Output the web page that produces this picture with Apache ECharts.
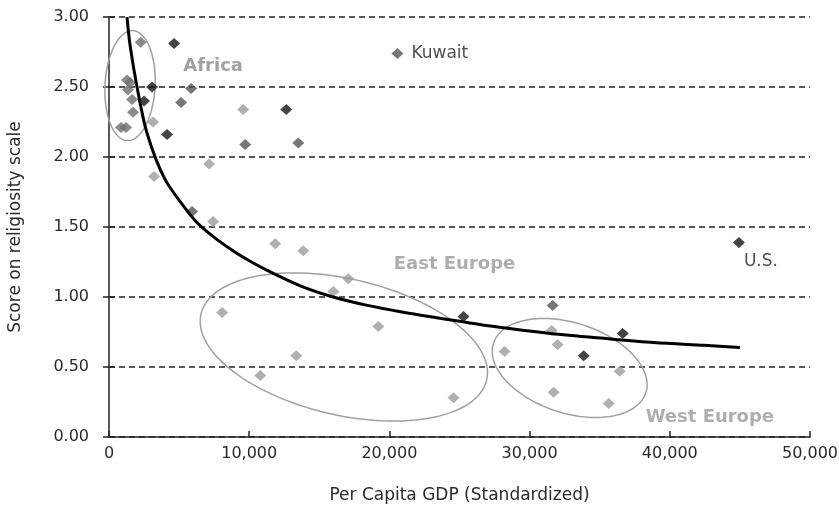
<!DOCTYPE html>
<html>
<head>
<meta charset="utf-8">
<script src="https://cdn.jsdelivr.net/npm/echarts@6/dist/echarts.min.js"></script>
<style>
html,body{margin:0;padding:0;background:#fff;}
#chart{width:839px;height:522px;}
</style>
</head>
<body>
<div id="chart"></div>
<script>
// ---- data (GDP per capita, religiosity score) ----
const blackPoints = [
  [4643, 2.81], [3071, 2.50], [2500, 2.40], [4143, 2.16], [12643, 2.34],
  [25286, 0.86], [36643, 0.74], [33857, 0.58], [44929, 1.39]
];
const darkPoints = [
  [5857, 2.49], [5143, 2.39], [9714, 2.09], [13500, 2.10], [5929, 1.61],
  [31643, 0.94], [20571, 2.74]
];
const africaPoints = [
  [2260, 2.82], [1500, 2.53], [1286, 2.55], [1357, 2.48], [1643, 2.41],
  [1714, 2.32], [857, 2.21], [1214, 2.21]
];
const lightPoints = [
  [3143, 2.25], [9571, 2.34], [7143, 1.95], [3214, 1.86], [7429, 1.54],
  [11857, 1.38], [13857, 1.33], [17071, 1.13], [16000, 1.04], [8071, 0.89],
  [19214, 0.79], [13357, 0.58], [10786, 0.44], [24571, 0.28], [31571, 0.76],
  [32000, 0.66], [28214, 0.61], [36429, 0.47], [31714, 0.32], [35643, 0.24]
];
// trend line
const trendX = [1286, 1500, 2000, 2714, 4000, 5929, 6500, 7714, 9143, 10071, 11286, 13643, 16000,
  18429, 20786, 24143, 27714, 31500, 35286, 38857, 42429, 45000];
const trendY = [3.00, 2.80, 2.50, 2.17, 1.84, 1.57, 1.51, 1.41, 1.31, 1.255, 1.19, 1.08, 1.00,
  0.94, 0.895, 0.84, 0.785, 0.74, 0.705, 0.675, 0.655, 0.64];
// named points
const kuwait = [20571, 2.74];
const usa = [44929, 1.39];
// region annotations
const regionNames = ['Africa', 'East Europe', 'West Europe'];
const regionLabelPos = [[7429, 2.65], [24643, 1.23], [42857, 0.14]];
const regionColors = ['#8a8a8a', '#9a9a9a', '#9a9a9a'];
// ellipse: centre (data), semi-axes (in GDP units; x and y share the same pixel scale), rotation deg
const ellipseCentres = [[1500, 2.51], [16750, 0.643], [32857, 0.493]];
const ellipseAxes = [[1786, 3929], [10457, 4857], [5714, 3214]];
const ellipseRot = [3, 13, 18];

const xTicks = [0, 10000, 20000, 30000, 40000, 50000];
const yTicks = [0, 0.5, 1, 1.5, 2, 2.5, 3];

const FONT = "'DejaVu Sans', sans-serif";
const chart = echarts.init(document.getElementById('chart'), null, {renderer: 'canvas'});

const ellipseData = ellipseCentres.map((c, i) => [c[0], c[1], ellipseAxes[i][0], ellipseAxes[i][1], ellipseRot[i]]);

const option = {
  backgroundColor: '#fff',
  animation: false,
  grid: {left: 109, right: 29, top: 17, bottom: 85, containLabel: false, outerBoundsMode: 'none'},
  xAxis: {
    type: 'value', min: xTicks[0], max: xTicks[xTicks.length - 1], interval: 10000,
    axisLine: {show: true, onZero: false, lineStyle: {color: '#222', width: 1.5}},
    axisTick: {show: true, inside: true, length: 6, lineStyle: {color: '#222', width: 1.5}},
    axisLabel: {color: '#2a2a2a', fontFamily: FONT, fontSize: 16, margin: 9,
      formatter: v => v.toLocaleString('en-US')},
    splitLine: {show: false},
    name: 'Per Capita GDP (Standardized)', nameLocation: 'middle', nameGap: 50,
    nameTextStyle: {color: '#2a2a2a', fontFamily: FONT, fontSize: 17}
  },
  yAxis: [{
    type: 'value', min: yTicks[0], max: yTicks[yTicks.length - 1], interval: 0.5,
    axisLine: {show: true, onZero: false, lineStyle: {color: '#222', width: 1.5}},
    axisTick: {show: true, length: 6, lineStyle: {color: '#222', width: 1.5}},
    axisLabel: {color: '#2a2a2a', fontFamily: FONT, fontSize: 16, margin: 20,
      formatter: v => v.toFixed(2)},
    splitLine: {show: true, lineStyle: {color: '#222', width: 1.5, type: [6, 4]}},
    name: 'Score on religiosity scale', nameLocation: 'middle', nameGap: 85,
    nameTextStyle: {color: '#2a2a2a', fontFamily: FONT, fontSize: 17}
  }, {
    type: 'value', position: 'left', min: 0, max: 3, interval: 0.5,
    axisLine: {show: false}, axisLabel: {show: false}, splitLine: {show: false},
    axisTick: {show: true, inside: true, length: 6, lineStyle: {color: '#222', width: 1.5}}
  }],
  series: [
    {
      type: 'custom', name: 'ellipses', data: ellipseData, z: 1, silent: true,
      renderItem: function (params, api) {
        const c = api.coord([api.value(0), api.value(1)]);
        const a = api.size([api.value(2), 0])[0];
        const b = api.size([api.value(3), 0])[0];
        const th = api.value(4) * Math.PI / 180;
        const pts = [];
        for (let k = 0; k <= 120; k++) {
          const t = k / 120 * Math.PI * 2;
          const ex = a * Math.cos(t), ey = b * Math.sin(t);
          pts.push([c[0] + ex * Math.cos(th) - ey * Math.sin(th), c[1] + ex * Math.sin(th) + ey * Math.cos(th)]);
        }
        return {type: 'polyline', shape: {points: pts}, style: {stroke: '#a0a0a0', lineWidth: 1.5, fill: null}};
      }
    },
    {type: 'scatter', name: 'light', data: lightPoints, symbol: 'diamond', symbolSize: [12, 11], z: 2,
      itemStyle: {color: '#9c9c9c'}},
    {type: 'scatter', name: 'africa', data: africaPoints, symbol: 'diamond', symbolSize: [12, 11], z: 2,
      itemStyle: {color: '#6e6e6e'}},
    {type: 'scatter', name: 'dark', data: darkPoints, symbol: 'diamond', symbolSize: [12, 11], z: 2,
      itemStyle: {color: '#555'}},
    {type: 'line', name: 'trend', data: trendX.map((x, i) => [x, trendY[i]]), smooth: 0.3, showSymbol: false,
      z: 3, lineStyle: {color: '#000', width: 3}},
    {type: 'scatter', name: 'black', data: blackPoints, symbol: 'diamond', symbolSize: [12, 11], z: 4,
      itemStyle: {color: '#151515'}},
    {type: 'scatter', name: 'named', data: [
        {value: kuwait, label: {position: 'right', distance: 14}, name: 'Kuwait'},
        {value: usa, label: {position: 'bottom', distance: 11, offset: [22, 0]}, name: 'U.S.'}
      ], symbolSize: 0, z: 5,
      label: {show: true, formatter: p => p.name, color: '#222', fontFamily: FONT, fontSize: 17}},
    {type: 'scatter', name: 'regions', data: regionLabelPos.map((p, i) => ({value: p, name: regionNames[i],
        label: {color: regionColors[i]}})),
      symbolSize: 0, z: 5,
      label: {show: true, position: 'inside', formatter: p => p.name, fontFamily: FONT,
        fontSize: 18, fontWeight: 'bold'}}
  ]
};
chart.setOption(option);
</script>
</body>
</html>
